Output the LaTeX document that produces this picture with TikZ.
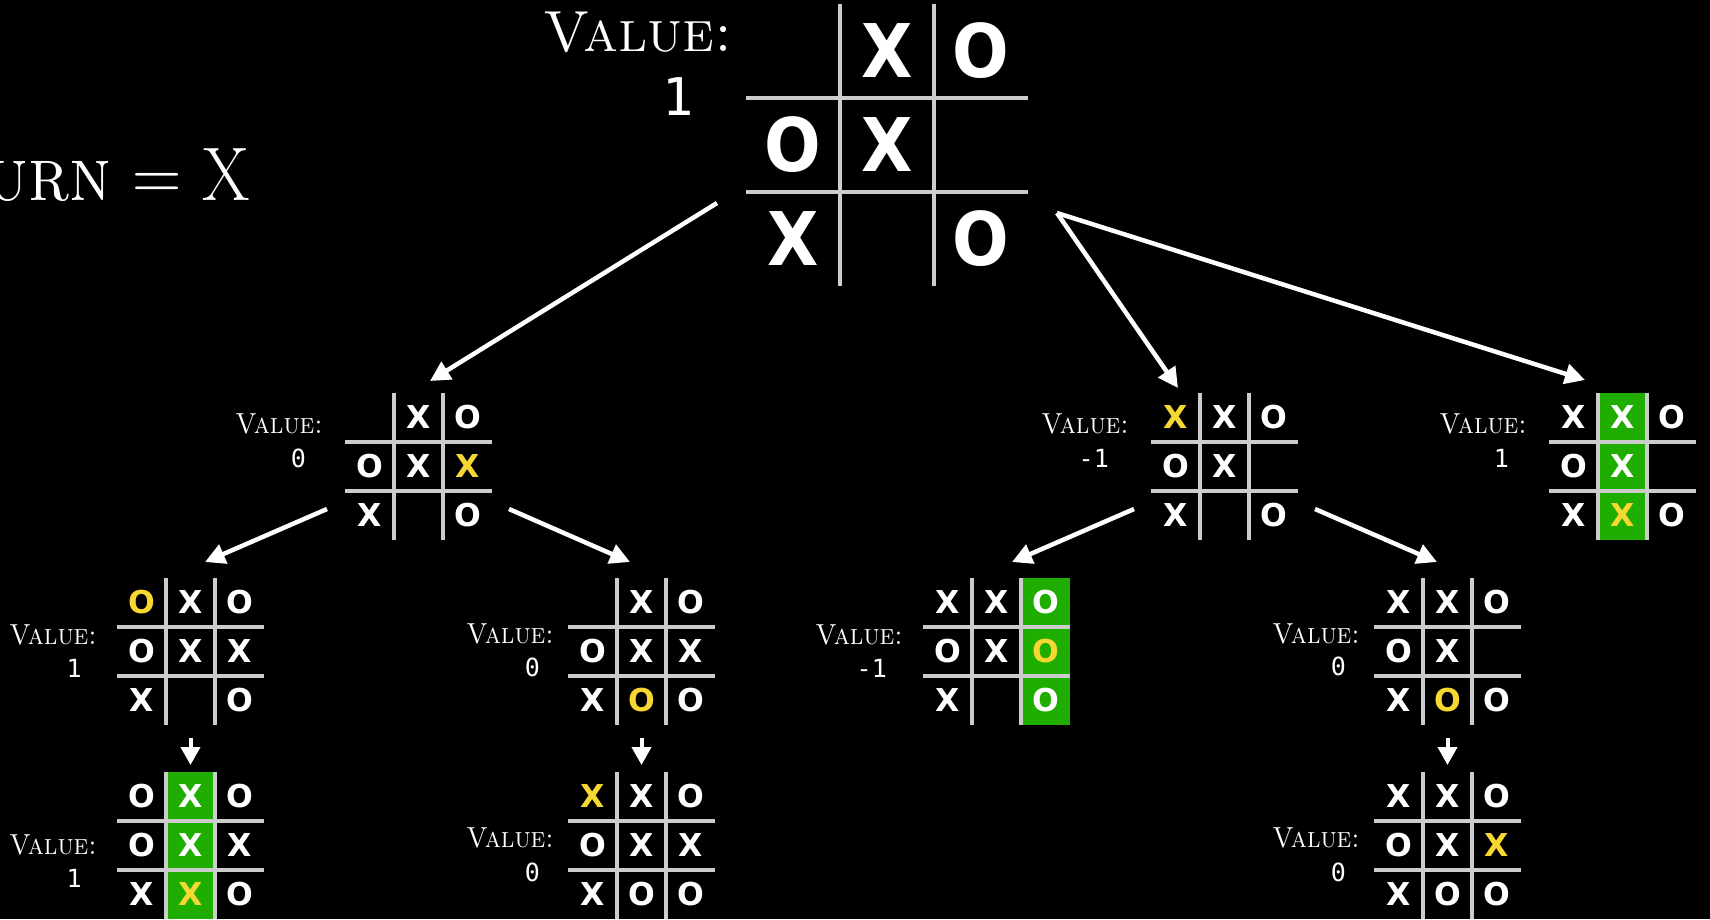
\documentclass[tikz,border=0pt]{standalone}
\usepackage{fontspec}
\newfontfamily\markfont{DejaVu Sans}
\newfontfamily\numfont{DejaVu Sans Mono}
\usetikzlibrary{arrows.meta}
\definecolor{gridgray}{RGB}{204,204,204}
\definecolor{markyellow}{RGB}{247,216,51}
\definecolor{wingreen}{RGB}{31,173,0}
% #1 name, #2 left, #3 top, #4 cell, #5 green column (0 = none), #6 marks
\newcommand\tttboard[6]{%
  \begin{scope}[shift={(#2,#3)},x=#4pt,y=-#4pt]
    \ifnum#5>0 \fill[wingreen] (#5-1,0) rectangle (#5,3);\fi
    \draw[gridline] (1,0) -- (1,3);
    \draw[gridline] (2,0) -- (2,3);
    \draw[gridline] (0,1) -- (3,1);
    \draw[gridline] (0,2) -- (3,2);
    \node[boardbox,minimum size={3*#4pt}] (#1) at (1.5,1.5) {};
    \foreach \c/\r/\t/\col in {#6} {\node[mk,text=\col] at (\c-0.5,\r-0.5) {\t};}
  \end{scope}}
\begin{document}
\begin{tikzpicture}[x=1pt,y=-1pt,
  gridline/.style={draw=gridgray,line width=4pt},
  boardbox/.style={inner sep=0pt,outer sep=0pt},
  mk/.style={font=\markfont\bfseries\fontsize{31.5}{32}\selectfont,inner sep=0pt,anchor=center},
  vallabel/.style={font=\fontsize{29}{30}\selectfont\scshape,text=white,inner sep=0pt,anchor=base east,xscale=0.91},
  valnum/.style={font=\numfont\fontsize{25}{26}\selectfont,text=white,inner sep=0pt,anchor=base east},
  link/.style={draw=white,line width=4.5pt,-{Triangle[length=20pt,width=20pt]}},
  downlink/.style={draw=white,line width=4pt,-{Triangle[length=18pt,width=19pt]}}]
\useasboundingbox (0,0) rectangle (1710,919);
\clip (0,0) rectangle (1710,919);
\fill[black] (0,0) rectangle (1710,919);

% turn label
\node[text=white,inner sep=0pt,anchor=base east,xscale=0.9,font=\fontsize{76}{80}\selectfont] (turn) at (250,200) {\textsc{Turn} = X};

% top board
\begin{scope}[mk/.append style={font=\markfont\bfseries\fontsize{74}{76}\selectfont,xscale=0.9}]
\tttboard{T}{746}{4}{94}{0}{2/1/X/white,3/1/O/white,1/2/O/white,2/2/X/white,1/3/X/white,3/3/O/white}
\end{scope}
\node[vallabel,xscale=1.08,font=\fontsize{58}{60}\selectfont\scshape] (Tv) at (733,51) {Value:};
\node[valnum,font=\numfont\fontsize{52}{54}\selectfont] (Tn) at (694,115) {1};

% level 1
\tttboard{A}{345}{393}{49}{0}{2/1/X/white,3/1/O/white,1/2/O/white,2/2/X/white,3/2/X/markyellow,1/3/X/white,3/3/O/white}
\node[vallabel] (Av) at (323,433) {Value:};
\node[valnum] (An) at (306,467) {0};

\tttboard{B}{1151}{393}{49}{0}{1/1/X/markyellow,2/1/X/white,3/1/O/white,1/2/O/white,2/2/X/white,1/3/X/white,3/3/O/white}
\node[vallabel] (Bv) at (1129,433) {Value:};
\node[valnum] (Bn) at (1109,467) {-1};

\tttboard{C}{1549}{393}{49}{2}{1/1/X/white,2/1/X/white,3/1/O/white,1/2/O/white,2/2/X/white,1/3/X/white,2/3/X/markyellow,3/3/O/white}
\node[vallabel] (Cv) at (1527,433) {Value:};
\node[valnum] (Cn) at (1509,467) {1};

% level 2
\tttboard{D}{117}{578}{49}{0}{1/1/O/markyellow,2/1/X/white,3/1/O/white,1/2/O/white,2/2/X/white,3/2/X/white,1/3/X/white,3/3/O/white}
\node[vallabel] (Dv) at (97,644) {Value:};
\node[valnum] (Dn) at (82,677) {1};

\tttboard{E}{568}{578}{49}{0}{2/1/X/white,3/1/O/white,1/2/O/white,2/2/X/white,3/2/X/white,1/3/X/white,2/3/O/markyellow,3/3/O/white}
\node[vallabel] (Ev) at (554,643) {Value:};
\node[valnum] (En) at (540,676) {0};

\tttboard{F}{923}{578}{49}{3}{1/1/X/white,2/1/X/white,3/1/O/white,1/2/O/white,2/2/X/white,3/2/O/markyellow,1/3/X/white,3/3/O/white}
\node[vallabel] (Fv) at (903,644) {Value:};
\node[valnum] (Fn) at (887,677) {-1};

\tttboard{G}{1374}{578}{49}{0}{1/1/X/white,2/1/X/white,3/1/O/white,1/2/O/white,2/2/X/white,1/3/X/white,2/3/O/markyellow,3/3/O/white}
\node[vallabel] (Gv) at (1360,643) {Value:};
\node[valnum] (Gn) at (1346,675) {0};

% level 3
\tttboard{H}{117}{772}{49}{2}{1/1/O/white,2/1/X/white,3/1/O/white,1/2/O/white,2/2/X/white,3/2/X/white,1/3/X/white,2/3/X/markyellow,3/3/O/white}
\node[vallabel] (Hv) at (97,854) {Value:};
\node[valnum] (Hn) at (82,887) {1};

\tttboard{I}{568}{772}{49}{0}{1/1/X/markyellow,2/1/X/white,3/1/O/white,1/2/O/white,2/2/X/white,3/2/X/white,1/3/X/white,2/3/O/white,3/3/O/white}
\node[vallabel] (Iv) at (554,847) {Value:};
\node[valnum] (In) at (540,881) {0};

\tttboard{J}{1374}{772}{49}{0}{1/1/X/white,2/1/X/white,3/1/O/white,1/2/O/white,2/2/X/white,3/2/X/markyellow,1/3/X/white,2/3/O/white,3/3/O/white}
\node[vallabel] (Jv) at (1360,847) {Value:};
\node[valnum] (Jn) at (1346,881) {0};

% connector end points
\coordinate (TAs) at (717,203);  \coordinate (TAe) at (430,381);
\coordinate (TRs) at (1057,213);
\coordinate (TBe) at (1178,388); \coordinate (TCe) at (1585,380);
\coordinate (ADs) at (327,509);  \coordinate (ADe) at (205,562);
\coordinate (AEs) at (509,509);  \coordinate (AEe) at (630,562);
\coordinate (BFs) at (1134,509); \coordinate (BFe) at (1012,562);
\coordinate (BGs) at (1315,509); \coordinate (BGe) at (1437,562);
\coordinate (DHs) at (190.5,738); \coordinate (DHe) at (190.5,765);
\coordinate (EIs) at (641.5,738); \coordinate (EIe) at (641.5,765);
\coordinate (GJs) at (1447.5,738); \coordinate (GJe) at (1447.5,765);

\draw[link] (TAs) -- (TAe);
\draw[link] (TRs) -- (TBe);
\draw[link] (TRs) -- (TCe);
\draw[link] (ADs) -- (ADe);
\draw[link] (AEs) -- (AEe);
\draw[link] (BFs) -- (BFe);
\draw[link] (BGs) -- (BGe);
\draw[downlink] (DHs) -- (DHe);
\draw[downlink] (EIs) -- (EIe);
\draw[downlink] (GJs) -- (GJe);
\end{tikzpicture}
\end{document}
